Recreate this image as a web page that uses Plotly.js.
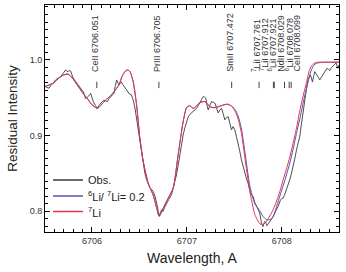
<!DOCTYPE html>
<html><head><meta charset="utf-8">
<script src="https://cdn.plot.ly/plotly-3.0.1.min.js"></script>
<style>html,body{margin:0;padding:0;background:#fff}#chart{width:346px;height:272px}</style>
</head><body><div id="chart"></div>
<script>
// ---- data ----
const obsWl = [6705.505,6705.53,6705.547,6705.565,6705.582,6705.60,6705.617,6705.645,6705.67,6705.70,6705.723,6705.735,6705.747,6705.76,6705.775,6705.79,6705.803,6705.825,6705.845,6705.862,6705.88,6705.895,6705.908,6705.92,6705.933,6705.947,6705.961,6705.975,6705.986,6706.00,6706.014,6706.035,6706.056,6706.075,6706.091,6706.11,6706.126,6706.145,6706.161,6706.18,6706.196,6706.215,6706.232,6706.245,6706.26,6706.272,6706.284,6706.297,6706.309,6706.322,6706.337,6706.355,6706.372,6706.395,6706.414,6706.435,6706.455,6706.47,6706.49,6706.505,6706.52,6706.54,6706.558,6706.575,6706.593,6706.61,6706.628,6706.646,6706.664,6706.68,6706.69,6706.698,6706.708,6706.72,6706.733,6706.742,6706.75,6706.768,6706.786,6706.81,6706.838,6706.865,6706.89,6706.91,6706.926,6706.945,6706.961,6706.98,6706.997,6707.015,6707.03,6707.049,6707.066,6707.085,6707.102,6707.12,6707.137,6707.155,6707.172,6707.186,6707.2,6707.212,6707.225,6707.242,6707.26,6707.278,6707.295,6707.312,6707.33,6707.348,6707.365,6707.382,6707.4,6707.418,6707.435,6707.453,6707.47,6707.487,6707.505,6707.522,6707.54,6707.558,6707.575,6707.592,6707.61,6707.628,6707.645,6707.658,6707.67,6707.685,6707.698,6707.715,6707.733,6707.75,6707.768,6707.786,6707.803,6707.812,6707.82,6707.832,6707.845,6707.856,6707.866,6707.878,6707.891,6707.91,6707.926,6707.945,6707.961,6707.975,6707.986,6708.0,6708.014,6708.03,6708.049,6708.067,6708.084,6708.10,6708.12,6708.138,6708.155,6708.172,6708.19,6708.207,6708.225,6708.242,6708.26,6708.277,6708.29,6708.302,6708.312,6708.323,6708.335,6708.347,6708.36,6708.372,6708.385,6708.4,6708.418,6708.435,6708.455,6708.477,6708.49,6708.505,6708.525,6708.547,6708.562,6708.575,6708.585,6708.59,6708.6];
const obsInt = [0.965,0.963,0.9626,0.966,0.969,0.972,0.9736,0.976,0.978,0.983,0.9868,0.9855,0.9846,0.986,0.9855,0.980,0.976,0.972,0.969,0.965,0.9626,0.960,0.958,0.953,0.949,0.950,0.9516,0.954,0.956,0.950,0.945,0.940,0.936,0.940,0.943,0.945,0.947,0.946,0.945,0.949,0.9516,0.954,0.956,0.965,0.9736,0.970,0.967,0.969,0.971,0.968,0.965,0.962,0.958,0.955,0.954,0.947,0.935,0.923,0.906,0.892,0.878,0.8615,0.850,0.842,0.836,0.831,0.829,0.8263,0.820,0.813,0.806,0.800,0.7935,0.798,0.802,0.800,0.800,0.806,0.811,0.816,0.822,0.834,0.848,0.862,0.8747,0.889,0.901,0.911,0.9186,0.925,0.928,0.930,0.932,0.934,0.936,0.940,0.943,0.948,0.9516,0.951,0.9495,0.940,0.934,0.940,0.945,0.944,0.943,0.937,0.930,0.934,0.936,0.929,0.921,0.924,0.925,0.916,0.9077,0.912,0.9077,0.899,0.890,0.879,0.868,0.859,0.8505,0.843,0.837,0.830,0.824,0.821,0.8197,0.812,0.8065,0.802,0.7978,0.7846,0.780,0.784,0.7867,0.785,0.781,0.783,0.7846,0.787,0.789,0.793,0.7978,0.802,0.8065,0.811,0.815,0.817,0.8175,0.822,0.8285,0.835,0.8417,0.849,0.859,0.870,0.881,0.890,0.899,0.915,0.932,0.950,0.962,0.9736,0.978,0.980,0.976,0.971,0.978,0.9846,0.982,0.980,0.977,0.9736,0.977,0.980,0.985,0.989,0.988,0.9859,0.990,0.9934,0.995,0.9956,0.992,0.989,0.993];
const synWl = [6705.505,6705.55,6705.60,6705.65,6705.70,6705.747,6705.80,6705.85,6705.90,6705.95,6706.00,6706.056,6706.10,6706.144,6706.19,6706.232,6706.284,6706.32,6706.35,6706.375,6706.40,6706.435,6706.47,6706.505,6706.54,6706.593,6706.646,6706.68,6706.708,6706.75,6706.803,6706.856,6706.908,6706.961,6706.997,6707.03,6707.066,6707.10,6707.137,6707.19,6707.242,6707.28,6707.312,6707.35,6707.40,6707.435,6707.47,6707.505,6707.54,6707.575,6707.61,6707.663,6707.716,6707.768,6707.80,6707.839,6707.874,6707.909,6707.95,6707.979,6708.02,6708.049,6708.085,6708.119,6708.155,6708.19,6708.23,6708.26,6708.29,6708.312,6708.34,6708.365,6708.40,6708.45,6708.50,6708.55,6708.603];
const synLi7 = [0.965,0.967,0.970,0.976,0.980,0.9815,0.975,0.966,0.957,0.949,0.941,0.936,0.941,0.947,0.952,0.958,0.967,0.979,0.985,0.9868,0.9846,0.971,0.9406,0.8967,0.866,0.837,0.821,0.805,0.7935,0.804,0.8175,0.8307,0.8747,0.9186,0.937,0.9395,0.936,0.939,0.9437,0.945,0.9384,0.937,0.9375,0.939,0.941,0.9415,0.939,0.933,0.922,0.9033,0.872,0.827,0.796,0.7836,0.7822,0.787,0.794,0.802,0.815,0.826,0.844,0.856,0.872,0.890,0.910,0.933,0.955,0.970,0.986,0.992,0.9955,0.9968,0.997,0.997,0.997,0.997,0.997];
const synLi6Li7 = [0.965,0.967,0.970,0.976,0.980,0.9815,0.975,0.966,0.957,0.949,0.941,0.936,0.941,0.947,0.952,0.958,0.967,0.979,0.985,0.9868,0.9846,0.971,0.9406,0.8967,0.866,0.837,0.821,0.805,0.7935,0.804,0.8175,0.8307,0.8747,0.9186,0.937,0.9395,0.936,0.939,0.9437,0.945,0.9384,0.937,0.9375,0.939,0.941,0.9415,0.939,0.935,0.926,0.909,0.880,0.834,0.810,0.801,0.7935,0.789,0.789,0.793,0.808,0.820,0.836,0.848,0.864,0.882,0.903,0.922,0.946,0.962,0.978,0.987,0.9935,0.9955,0.9965,0.997,0.997,0.997,0.997];
const lineWl = [6706.051,6706.705,6707.472,6707.761,6707.912,6707.921,6708.029,6708.078,6708.099];
const lineLabels = ['CeII 6706.051','PrIII 6706.705','SmII 6707.472','<sup>7</sup>LiI 6707.761','<sup>7</sup>LiI 6707.912','<sup>6</sup>LiI 6707.921','NdII 6708.029','<sup>6</sup>LiI 6708.078','CeII 6708.099'];
const seriesNames = ['Obs.','<sup>6</sup>Li/ <sup>7</sup>Li= 0.2','<sup>7</sup>Li'];
const xTitle = 'Wavelength, A';
const yTitle = 'Residual Intensity';

// ---- styling ----
const FONT = 'Liberation Sans, Arial, Helvetica, sans-serif';
const colors = ['#3a3a3a','#5252b8','#e8324c'];
const W = 346, H = 272, M = {l:45, r:7, t:5, b:40};
const xr = [6705.505, 6708.603], yr = [0.7727, 1.0726];
const pxPerA = (W - M.l - M.r) / (xr[1] - xr[0]);

// spread label positions (px) so the vertical labels do not overlap
const gap = 8.3;
const markerPx = lineWl.map(w => (w - xr[0]) * pxPerA);
let groups = markerPx.map((p, i) => ({idx:[i], want:[p - 2]}));
function place(g){ const m = g.want.reduce((a,b)=>a+b,0)/g.want.length; const n=g.idx.length; return g.idx.map((_,k)=> m + (k-(n-1)/2)*gap); }
let merged = true;
while (merged) {
  merged = false;
  for (let i = 0; i < groups.length - 1; i++) {
    const a = place(groups[i]), b = place(groups[i+1]);
    if (b[0] - a[a.length-1] < gap) {
      groups[i] = {idx: groups[i].idx.concat(groups[i+1].idx), want: groups[i].want.concat(groups[i+1].want)};
      groups.splice(i+1, 1); merged = true; break;
    }
  }
}
const labelPx = [];
groups.forEach(g => { const p = place(g); g.idx.forEach((ix,k)=> labelPx[ix] = p[k]); });

const annotations = lineWl.map((w, i) => ({
  x: w, xref:'x', y: 0.982, yref:'y', text: lineLabels[i], textangle: -90,
  xanchor:'center', yanchor:'bottom', showarrow:false, xshift: labelPx[i] - markerPx[i],
  font:{family:FONT, size:9, color:'#333'}
}));
const shapes = lineWl.map(w => ({type:'line', xref:'x', yref:'y', x0:w, x1:w, y0:0.9628, y1:0.9712, line:{color:'#444', width:1}}));

// legend drawn in paper space
const legY = [180, 196, 211.5];
seriesNames.forEach((nm, i) => {
  const yp = (H - M.b - legY[i]) / (H - M.t - M.b);
  shapes.push({type:'line', xref:'paper', yref:'paper', x0:(53-M.l)/(W-M.l-M.r), x1:(83-M.l)/(W-M.l-M.r), y0:yp, y1:yp, line:{color:colors[i], width:1.5}});
  annotations.push({xref:'paper', yref:'paper', x:(85.5-M.l)/(W-M.l-M.r), y:yp, xanchor:'left', yanchor:'middle', showarrow:false, text:nm, font:{family:FONT, size:11, color:'#222'}});
});

const traces = [
  {x: obsWl, y: obsInt, name: seriesNames[0], mode:'lines', line:{color:colors[0], width:0.9}},
  {x: synWl, y: synLi6Li7, name: seriesNames[1], mode:'lines', line:{color:colors[1], width:1, shape:'spline', smoothing:0.6}},
  {x: synWl, y: synLi7, name: seriesNames[2], mode:'lines', line:{color:colors[2], width:1, shape:'spline', smoothing:0.6}}
];

const axisCommon = {showgrid:false, zeroline:false, showline:true, linecolor:'#000', linewidth:1, mirror:'allticks',
  ticks:'inside', ticklen:5, tickcolor:'#000', tickfont:{family:FONT, size:9, color:'#333'}};

const layout = {
  width: W, height: H, margin: M, showlegend:false,
  paper_bgcolor:'#fff', plot_bgcolor:'#fff', font:{family:FONT},
  xaxis: Object.assign({}, axisCommon, {range:xr, tick0:6706, dtick:1, tickformat:'d',
    minor:{dtick:0.1, ticks:'inside', ticklen:3, tickcolor:'#000'},
    title:{text:xTitle, font:{family:FONT, size:14, color:'#222'}, standoff:8}}),
  yaxis: Object.assign({}, axisCommon, {range:yr, tick0:0.8, dtick:0.1, tickformat:'.1f',
    minor:{dtick:0.01, ticks:'inside', ticklen:3, tickcolor:'#000'},
    title:{text:yTitle, font:{family:FONT, size:13.5, color:'#222'}, standoff:8}}),
  annotations, shapes
};
Plotly.newPlot('chart', traces, layout, {staticPlot:true, displayModeBar:false});
</script></body></html>
